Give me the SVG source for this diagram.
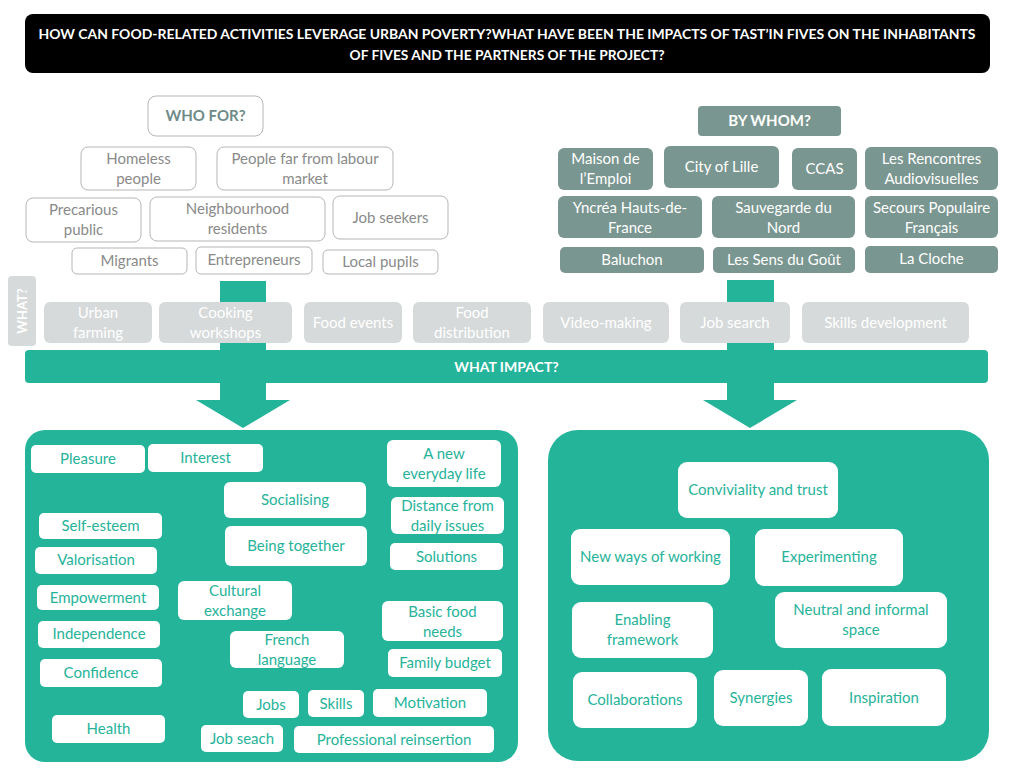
<svg xmlns="http://www.w3.org/2000/svg" width="1024" height="768" viewBox="0 0 1024 768">
<style>
text{font-family:Lato,"Open Sans","Liberation Sans",sans-serif;font-size:15px;text-anchor:middle}
.title{fill:#fff;font-weight:bold;font-size:13.5px}
.wf rect{fill:#fff;stroke:#b5b5b5;stroke-width:1}
.wf text{fill:#8a8a8a}
.wfh text{fill:#6f8b88;font-weight:bold}
.bw rect{fill:#7a9690}
.bw text{fill:#fff}
.bwh text{font-weight:bold}
.act rect{fill:#d6dada}
.act text{fill:#fff}
.imp rect{fill:#fff}
.imp text{fill:#26b39a}
.teal{fill:#24b49a}
</style>
<rect width="1024" height="768" fill="#fff"/>
<g id="title">
<rect x="25" y="14" width="965" height="59" rx="8" fill="#000"/>
<text class="title" x="507" y="39" textLength="937" lengthAdjust="spacingAndGlyphs">HOW CAN FOOD-RELATED ACTIVITIES LEVERAGE URBAN POVERTY?WHAT HAVE BEEN THE IMPACTS OF TAST’IN FIVES ON THE INHABITANTS</text>
<text class="title" x="507" y="60" textLength="315" lengthAdjust="spacingAndGlyphs">OF FIVES AND THE PARTNERS OF THE PROJECT?</text>
</g>
<g id="connectors">
<rect class="teal" x="220" y="281" width="46" height="120"/>
<polygon class="teal" points="196,400 290,400 243,428"/>
<rect class="teal" x="727" y="280" width="47" height="121"/>
<polygon class="teal" points="703,400 797,400 750,428"/>
</g>
<g id="who-for" class="wf wfh"><rect x="148" y="96" width="115" height="40" rx="8"/><text x="205.5" y="121">WHO FOR?</text></g>
<g id="homeless" class="wf"><rect x="81" y="147" width="115" height="43" rx="7"/><text x="138.5" y="164">Homeless</text><text x="138.5" y="184">people</text></g>
<g id="far-labour" class="wf"><rect x="217" y="147" width="176" height="43" rx="7"/><text x="305" y="164">People far from labour</text><text x="305" y="184">market</text></g>
<g id="precarious" class="wf"><rect x="26" y="198" width="115" height="44" rx="7"/><text x="83.5" y="215">Precarious</text><text x="83.5" y="235">public</text></g>
<g id="neighbourhood" class="wf"><rect x="150" y="197" width="175" height="44" rx="7"/><text x="237.5" y="214">Neighbourhood</text><text x="237.5" y="234">residents</text></g>
<g id="job-seekers" class="wf"><rect x="333" y="196" width="115" height="43" rx="7"/><text x="390.5" y="223">Job seekers</text></g>
<g id="migrants" class="wf"><rect x="72" y="248" width="115" height="26" rx="5"/><text x="129.5" y="266">Migrants</text></g>
<g id="entrepreneurs" class="wf"><rect x="196" y="247" width="116" height="27" rx="5"/><text x="254" y="265">Entrepreneurs</text></g>
<g id="local-pupils" class="wf"><rect x="323" y="250" width="115" height="24" rx="5"/><text x="380.5" y="267">Local pupils</text></g>

<g id="by-whom" class="bw bwh"><rect x="698" y="106" width="143" height="30" rx="4"/><text x="769.5" y="126">BY WHOM?</text></g>
<g id="maison" class="bw"><rect x="558" y="148" width="95" height="42" rx="6"/><text x="605.5" y="164">Maison de</text><text x="605.5" y="184">l’Emploi</text></g>
<g id="lille" class="bw"><rect x="664" y="146" width="115" height="42" rx="6"/><text x="721.5" y="172">City of Lille</text></g>
<g id="ccas" class="bw"><rect x="792" y="148" width="65" height="42" rx="6"/><text x="824.5" y="174">CCAS</text></g>
<g id="rencontres" class="bw"><rect x="865" y="147" width="133" height="43" rx="6"/><text x="931.5" y="164">Les Rencontres</text><text x="931.5" y="184">Audiovisuelles</text></g>
<g id="yncrea" class="bw"><rect x="558" y="196" width="144" height="42" rx="6"/><text x="630" y="213">Yncréa Hauts-de-</text><text x="630" y="233">France</text></g>
<g id="sauvegarde" class="bw"><rect x="712" y="196" width="143" height="42" rx="6"/><text x="783.5" y="213">Sauvegarde du</text><text x="783.5" y="233">Nord</text></g>
<g id="secours" class="bw"><rect x="865" y="196" width="133" height="42" rx="6"/><text x="931.5" y="213">Secours Populaire</text><text x="931.5" y="233">Français</text></g>
<g id="baluchon" class="bw"><rect x="560" y="247" width="144" height="26" rx="5"/><text x="632" y="265">Baluchon</text></g>
<g id="sens-gout" class="bw"><rect x="713" y="247" width="142" height="26" rx="5"/><text x="784" y="265">Les Sens du Goût</text></g>
<g id="cloche" class="bw"><rect x="865" y="246" width="133" height="27" rx="5"/><text x="931.5" y="264">La Cloche</text></g>

<g id="what" class="act"><rect x="8" y="276" width="28" height="70" rx="4"/><text transform="translate(27,311) rotate(-90)" style="font-weight:bold;font-size:13px">WHAT?</text></g>
<g id="urban-farming" class="act"><rect x="44" y="302" width="108" height="41" rx="6"/><text x="98" y="318">Urban</text><text x="98" y="338">farming</text></g>
<g id="cooking" class="act"><rect x="159" y="302" width="133" height="41" rx="6"/><text x="225.5" y="318">Cooking</text><text x="225.5" y="338">workshops</text></g>
<g id="food-events" class="act"><rect x="304" y="302" width="98" height="41" rx="6"/><text x="353" y="328">Food events</text></g>
<g id="food-distribution" class="act"><rect x="413" y="302" width="118" height="41" rx="6"/><text x="472" y="318">Food</text><text x="472" y="338">distribution</text></g>
<g id="video" class="act"><rect x="543" y="302" width="126" height="41" rx="6"/><text x="606" y="328">Video-making</text></g>
<g id="job-search" class="act"><rect x="680" y="302" width="110" height="41" rx="6"/><text x="735" y="328">Job search</text></g>
<g id="skills-dev" class="act"><rect x="802" y="302" width="167" height="41" rx="6"/><text x="885.5" y="328">Skills development</text></g>

<g id="what-impact"><rect class="teal" x="25" y="350" width="963" height="33" rx="4"/><text x="506.5" y="372" style="fill:#fff;font-weight:bold;font-size:14px">WHAT IMPACT?</text></g>

<g id="panel-left"><rect class="teal" x="25" y="430" width="493" height="332" rx="20"/></g>
<g id="panel-right"><rect class="teal" x="548" y="430" width="441" height="331" rx="30"/></g>

<g id="pleasure" class="imp"><rect x="31" y="445" width="114" height="28" rx="5"/><text x="88" y="464">Pleasure</text></g>
<g id="interest" class="imp"><rect x="148" y="444" width="115" height="28" rx="5"/><text x="205.5" y="463">Interest</text></g>
<g id="new-life" class="imp"><rect x="387" y="440" width="114" height="47" rx="6"/><text x="444" y="459">A new</text><text x="444" y="479">everyday life</text></g>
<g id="socialising" class="imp"><rect x="224" y="482" width="142" height="36" rx="6"/><text x="295" y="505">Socialising</text></g>
<g id="distance" class="imp"><rect x="391" y="497" width="113" height="37" rx="6"/><text x="447.5" y="511">Distance from</text><text x="447.5" y="531">daily issues</text></g>
<g id="self-esteem" class="imp"><rect x="39" y="513" width="123" height="26" rx="5"/><text x="100.5" y="531">Self-esteem</text></g>
<g id="together" class="imp"><rect x="225" y="526" width="142" height="40" rx="6"/><text x="296" y="551">Being together</text></g>
<g id="solutions" class="imp"><rect x="390" y="543" width="113" height="27" rx="5"/><text x="446.5" y="562">Solutions</text></g>
<g id="valorisation" class="imp"><rect x="35" y="547" width="122" height="27" rx="5"/><text x="96" y="565">Valorisation</text></g>
<g id="empowerment" class="imp"><rect x="37" y="585" width="122" height="25" rx="5"/><text x="98" y="603">Empowerment</text></g>
<g id="cultural" class="imp"><rect x="178" y="581" width="114" height="39" rx="6"/><text x="235" y="596">Cultural</text><text x="235" y="616">exchange</text></g>
<g id="basic-food" class="imp"><rect x="382" y="601" width="121" height="40" rx="6"/><text x="442.5" y="617">Basic food</text><text x="442.5" y="637">needs</text></g>
<g id="independence" class="imp"><rect x="38" y="621" width="122" height="27" rx="5"/><text x="99" y="639">Independence</text></g>
<g id="french" class="imp"><rect x="230" y="631" width="114" height="37" rx="6"/><text x="287" y="645">French</text><text x="287" y="665">language</text></g>
<g id="family-budget" class="imp"><rect x="388" y="649" width="114" height="28" rx="5"/><text x="445" y="668">Family budget</text></g>
<g id="confidence" class="imp"><rect x="40" y="659" width="122" height="28" rx="5"/><text x="101" y="678">Confidence</text></g>
<g id="jobs" class="imp"><rect x="243" y="691" width="56" height="27" rx="5"/><text x="271" y="710">Jobs</text></g>
<g id="skills" class="imp"><rect x="308" y="690" width="56" height="27" rx="5"/><text x="336" y="709">Skills</text></g>
<g id="motivation" class="imp"><rect x="373" y="689" width="114" height="28" rx="5"/><text x="430" y="708">Motivation</text></g>
<g id="health" class="imp"><rect x="52" y="715" width="113" height="28" rx="5"/><text x="108.5" y="734">Health</text></g>
<g id="job-seach" class="imp"><rect x="201" y="725" width="82" height="27" rx="5"/><text x="242" y="744">Job seach</text></g>
<g id="reinsertion" class="imp"><rect x="294" y="726" width="200" height="27" rx="5"/><text x="394" y="745">Professional reinsertion</text></g>

<g id="conviviality" class="imp"><rect x="678" y="462" width="160" height="56" rx="9"/><text x="758" y="495">Conviviality and trust</text></g>
<g id="new-ways" class="imp"><rect x="571" y="529" width="159" height="56" rx="9"/><text x="650.5" y="562">New ways of working</text></g>
<g id="experimenting" class="imp"><rect x="755" y="529" width="148" height="57" rx="9"/><text x="829" y="562">Experimenting</text></g>
<g id="enabling" class="imp"><rect x="572" y="602" width="141" height="56" rx="9"/><text x="642.5" y="625">Enabling</text><text x="642.5" y="645">framework</text></g>
<g id="neutral" class="imp"><rect x="775" y="592" width="172" height="56" rx="9"/><text x="861" y="615">Neutral and informal</text><text x="861" y="635">space</text></g>
<g id="collaborations" class="imp"><rect x="573" y="672" width="124" height="56" rx="9"/><text x="635" y="705">Collaborations</text></g>
<g id="synergies" class="imp"><rect x="714" y="670" width="94" height="56" rx="9"/><text x="761" y="703">Synergies</text></g>
<g id="inspiration" class="imp"><rect x="822" y="669" width="124" height="57" rx="9"/><text x="884" y="703">Inspiration</text></g>
</svg>
